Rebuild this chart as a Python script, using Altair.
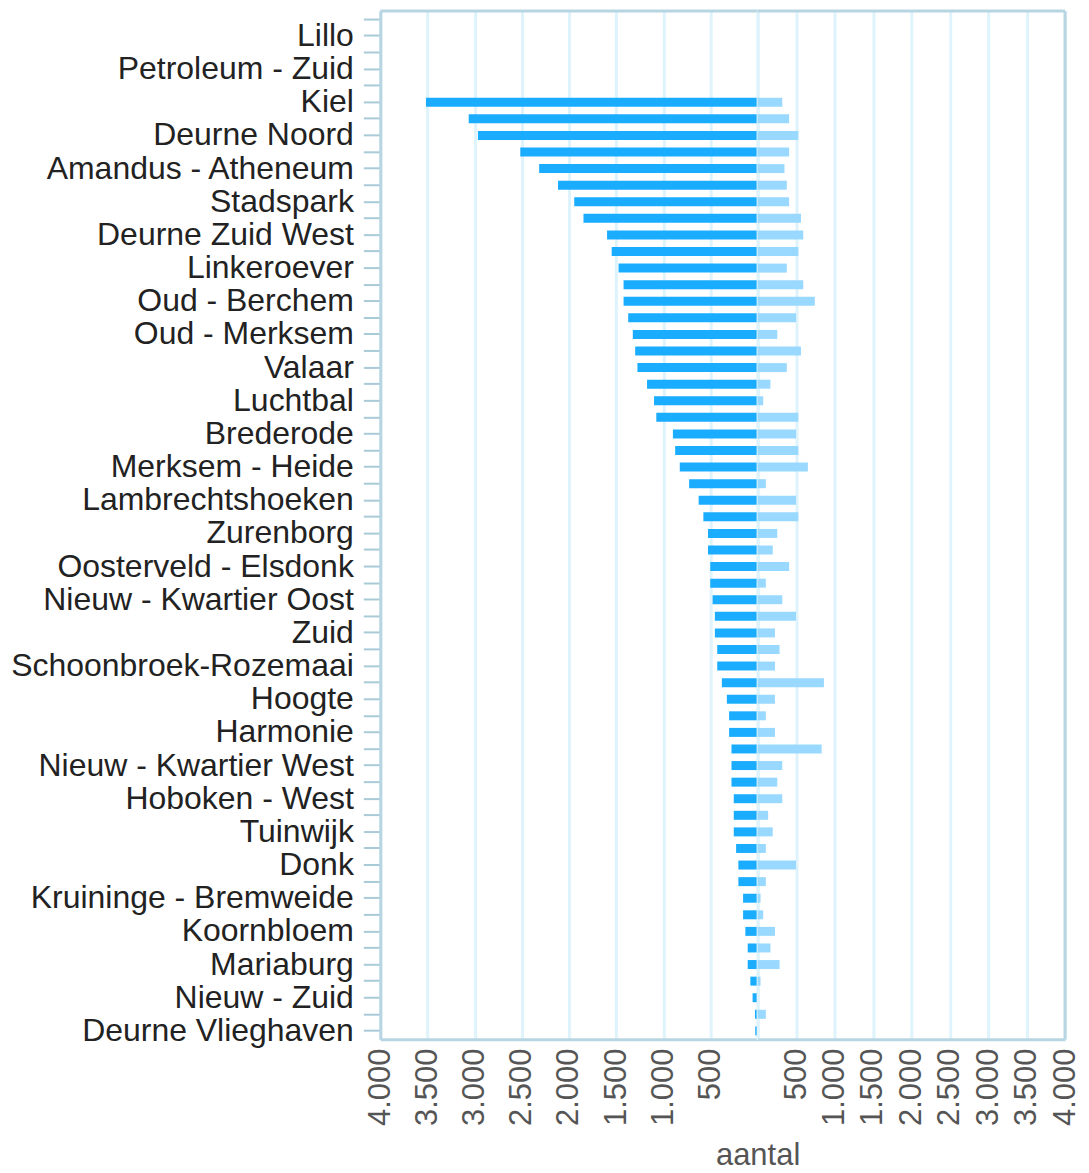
import altair as alt
import pandas as pd

# labelled neighbourhoods (every second row of the chart carries a label)
labelled = [
    "Lillo", "Petroleum - Zuid", "Kiel", "Deurne Noord", "Amandus - Atheneum",
    "Stadspark", "Deurne Zuid West", "Linkeroever", "Oud - Berchem", "Oud - Merksem",
    "Valaar", "Luchtbal", "Brederode", "Merksem - Heide", "Lambrechtshoeken",
    "Zurenborg", "Oosterveld - Elsdonk", "Nieuw - Kwartier Oost", "Zuid",
    "Schoonbroek-Rozemaai", "Hoogte", "Harmonie", "Nieuw - Kwartier West",
    "Hoboken - West", "Tuinwijk", "Donk", "Kruininge - Bremweide", "Koornbloem",
    "Mariaburg", "Nieuw - Zuid", "Deurne Vlieghaven",
]

# left (dark) bars, top to bottom, 62 rows
links = [
    0, 0, 0, 0, 0, 3516, 3063, 2965, 2516, 2316,
    2116, 1944, 1846, 1596, 1547, 1474, 1421, 1421, 1372, 1323,
    1298, 1274, 1172, 1098, 1074, 898, 874, 825, 726, 625,
    575, 526, 526, 502, 502, 477, 453, 453, 428, 428,
    379, 326, 302, 302, 277, 277, 277, 253, 253, 253,
    228, 204, 204, 154, 154, 130, 105, 105, 77, 53,
    28, 25,
]

# right (light) bars, top to bottom, 62 rows
rechts = [
    0, 0, 0, 0, 0, 321, 410, 530, 410, 350,
    380, 410, 564, 594, 530, 380, 594, 744, 500, 256,
    564, 380, 167, 73, 530, 500, 530, 654, 107, 500,
    530, 256, 197, 410, 107, 321, 500, 226, 286, 226,
    863, 226, 107, 226, 833, 321, 256, 321, 137, 197,
    107, 500, 107, 38, 73, 226, 167, 286, 38, 0,
    107, 0,
]

ticks = [0, 500, 1000, 1500, 2000, 2500, 3000, 3500, 4000]

# rows without a visible label get a unique blank key
wijk = []
for i in range(len(links)):
    if i % 2 == 1:
        wijk.append(labelled[i // 2])
    else:
        wijk.append(" " * (i // 2 + 1))

df = pd.DataFrame({"wijk": wijk, "links": links, "rechts": rechts})
one = pd.DataFrame({"a": [0]})

FRAME = "#b8d6e2"
GRID = "#def3fc"
FONT = "Liberation Sans"
LW, RW, H = 378, 308, 1030

lab_expr = "datum.value == 0 ? '' : replace(format(datum.value, ','), ',', '.')"

base_x_axis = dict(
    values=ticks, labelExpr=lab_expr, labelAngle=-90, labelFlush=False,
    labelOverlap=False, ticks=False, labelPadding=9, labelFont=FONT,
    labelFontSize=31, labelColor="#555555", grid=True, gridColor=GRID,
    gridWidth=3, domainColor=FRAME, domainWidth=3,
)

y_scale = alt.Scale(paddingInner=0.45, paddingOuter=0.225)

left_bars = alt.Chart(df).mark_bar(color="#1aadff", size=9, x2Offset=-1).encode(
    x=alt.X("links:Q", scale=alt.Scale(domain=[0, 4000], reverse=True, nice=False),
            axis=alt.Axis(title=None, **base_x_axis)),
    y=alt.Y(
        "wijk:N", sort=None, scale=y_scale,
        axis=alt.Axis(
            title=None, labelFont=FONT,
            labelFontSize={"condition": {"test": "trim(datum.label) == ''", "value": 1},
                           "value": 32},
            labelColor="#222222",
            labelOverlap=False, labelPadding=10, tickSize=17, tickColor="#a9cbd8",
            tickWidth=2, domainColor=FRAME, domainWidth=3, labelLimit=0,
        ),
    ),
)
left_top = alt.Chart(one).mark_rule(color=FRAME, strokeWidth=3).encode(
    x=alt.value(0), x2=alt.value(LW), y=alt.value(0)
)
left = alt.layer(left_bars, left_top).properties(width=LW, height=H)

right_bars = alt.Chart(df).mark_bar(color="#99d9ff", size=9, x2Offset=2).encode(
    x=alt.X("rechts:Q", scale=alt.Scale(domain=[0, 4000], nice=False),
            axis=alt.Axis(title="aantal", titleX=0, titleY=126, titleAlign="center",
                          titleBaseline="alphabetic", titleFont=FONT, titleFontSize=31,
                          titleFontWeight="normal", titleColor="#555555",
                          **base_x_axis)),
    y=alt.Y("wijk:N", sort=None, scale=y_scale, axis=None),
)
right_top = alt.Chart(one).mark_rule(color=FRAME, strokeWidth=3).encode(
    x=alt.value(0), x2=alt.value(RW), y=alt.value(0)
)
right_side = alt.Chart(one).mark_rule(color=FRAME, strokeWidth=3).encode(
    x=alt.value(RW), y=alt.value(0), y2=alt.value(H)
)
right = alt.layer(right_bars, right_top, right_side).properties(width=RW, height=H)

chart = alt.hconcat(left, right, spacing=0, bounds="flush").properties(
    padding={"left": 2, "top": 0, "right": 0, "bottom": 0}
).configure_view(stroke=None).configure(background="white")

chart.save("out.html", embed_options={"renderer": "svg", "actions": False})
